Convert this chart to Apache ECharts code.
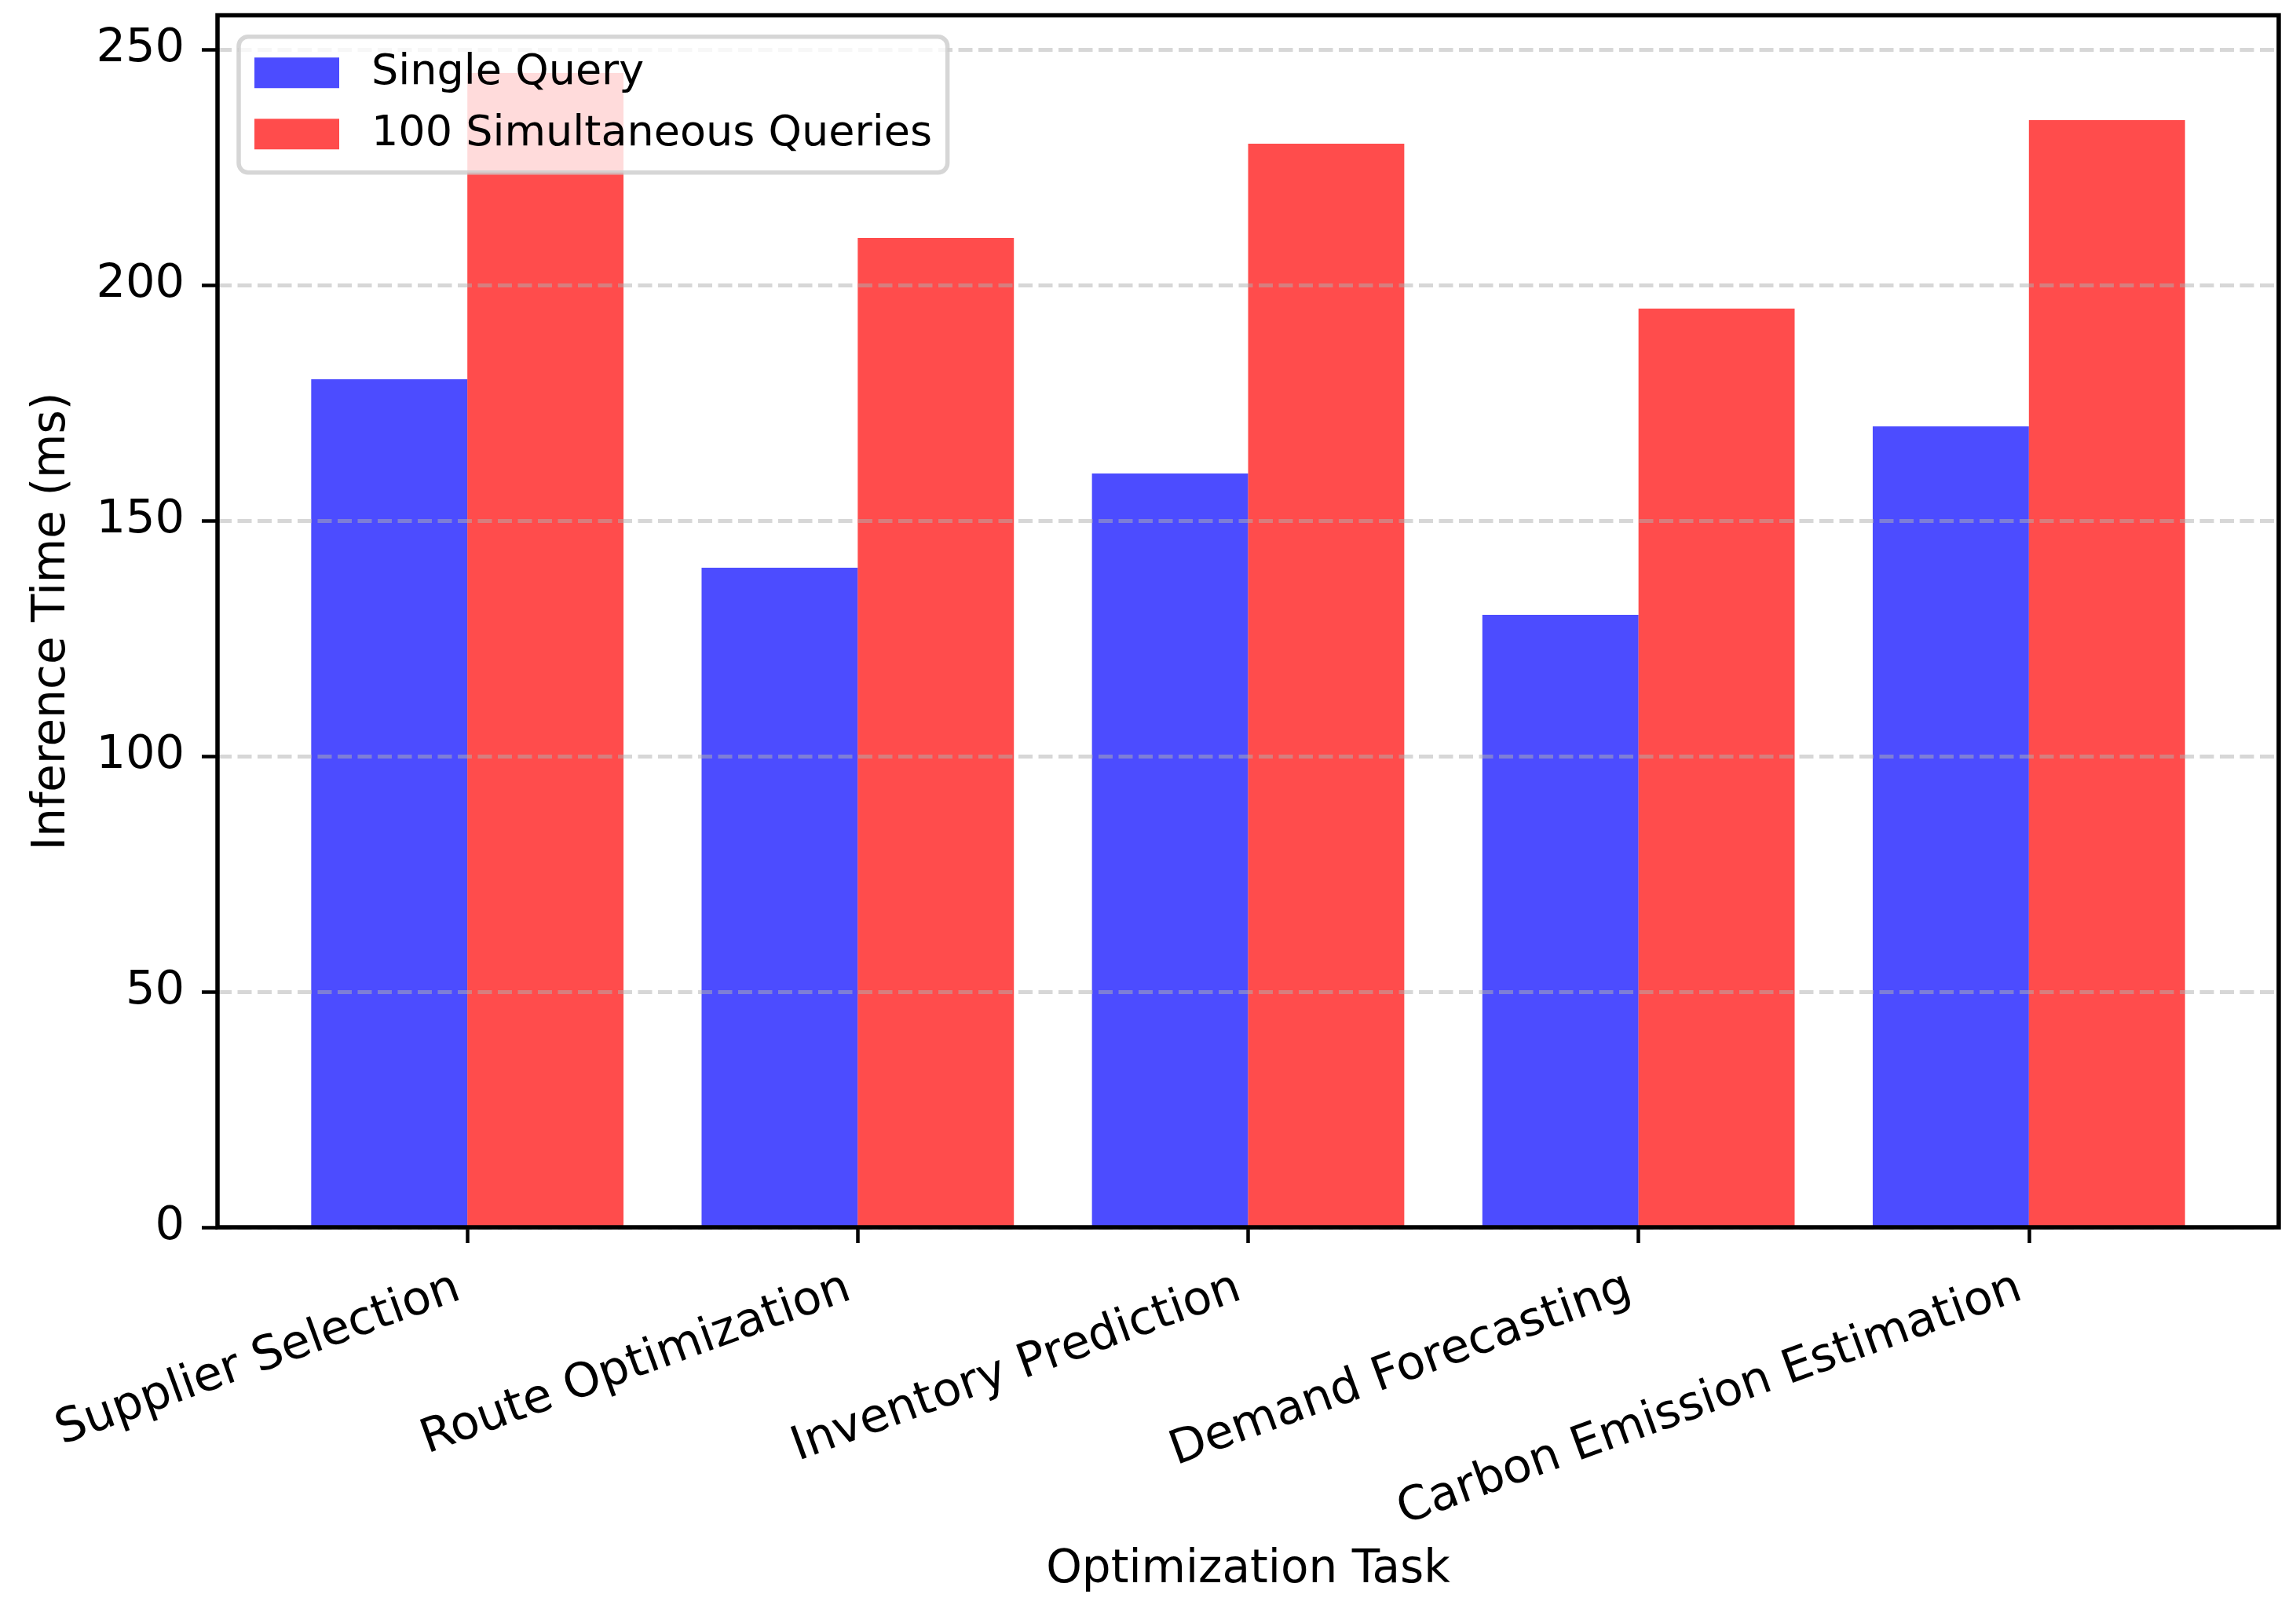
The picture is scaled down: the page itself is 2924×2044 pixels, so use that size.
<!DOCTYPE html>
<html>
<head>
<meta charset="utf-8">
<script src="https://cdn.jsdelivr.net/npm/echarts@6/dist/echarts.min.js"></script>
<style>
html,body{margin:0;padding:0;background:#fff;}
#chart{width:2924px;height:2044px;}
</style>
</head>
<body>
<div id="chart"></div>
<script>
// ---- data ----
const categories = ['Supplier Selection', 'Route Optimization', 'Inventory Prediction', 'Demand Forecasting', 'Carbon Emission Estimation'];
const singleQuery = [180, 140, 160, 130, 170];
const simultaneousQueries = [245, 210, 230, 195, 235];
const seriesNames = ['Single Query', '100 Simultaneous Queries'];
const yTicks = [0, 50, 100, 150, 200, 250];
const yMax = 257.25;
const xLabel = 'Optimization Task';
const yLabel = 'Inference Time (ms)';

const FONT = 'DejaVu Sans';
const chart = echarts.init(document.getElementById('chart'), null, {renderer: 'canvas'});

// frame grid (matplotlib axes box) and bar grid (category bands)
const frame = {left: 277, right: 22, top: 19.5, bottom: 481};
const plotW = 2924 - frame.left - frame.right;
const unit = plotW / 5.28;           // px per category
const barLeft = frame.left + 0.64 * unit - unit / 2;
const barRight = 2924 - (barLeft + 5 * unit);

const option = {
  backgroundColor: '#ffffff',
  animation: false,
  textStyle: {fontFamily: FONT},
  grid: [
    {left: frame.left, right: frame.right, top: frame.top, bottom: frame.bottom,
     show: true, borderColor: '#000', borderWidth: 5.5, backgroundColor: 'transparent', z: 4},
    {left: barLeft, right: barRight, top: frame.top, bottom: frame.bottom}
  ],
  legend: {
    orient: 'vertical',
    left: 304, top: 46.7,
    padding: [19, 19.5, 22, 20],
    itemWidth: 108, itemHeight: 39, itemGap: 24,
    icon: 'rect',
    backgroundColor: 'rgba(255,255,255,0.8)',
    borderColor: 'rgba(204,204,204,0.8)',
    borderWidth: 5.5,
    borderRadius: 12,
    textStyle: {fontFamily: FONT, fontSize: 54, color: '#000', padding: [0, 0, 0, 36]},
    data: seriesNames,
    z: 10
  },
  xAxis: [
    {gridIndex: 0, type: 'value', min: 0, max: 1,
     axisLine: {show: false}, axisTick: {show: false}, axisLabel: {show: false}, splitLine: {show: false}},
    {gridIndex: 1, type: 'category', data: categories,
     axisLine: {show: false},
     axisTick: {show: true, alignWithLabel: true, length: 20, lineStyle: {color: '#000', width: 4.5}},
     axisLabel: {interval: 0, rotate: 20, margin: 72, fontFamily: FONT, fontSize: 60, color: '#000', padding: [0, 12, 0, 0]},
     name: xLabel, nameLocation: 'middle', nameGap: 408,
     nameTextStyle: {fontFamily: FONT, fontSize: 58, color: '#000'}}
  ],
  yAxis: [
    {gridIndex: 0, type: 'value', min: 0, max: yMax, z: 3,
     axisLine: {show: false},
     axisTick: {show: true, length: 20, lineStyle: {color: '#000', width: 4.5}, customValues: yTicks},
     axisLabel: {fontFamily: FONT, fontSize: 59, color: '#000', margin: 42, customValues: yTicks},
     splitLine: {show: true, lineStyle: {color: 'rgba(176,176,176,0.5)', width: 4.8, type: [18, 7.5]}},
     name: yLabel, nameLocation: 'middle', nameGap: 181, nameRotate: 90,
     nameTextStyle: {fontFamily: FONT, fontSize: 58, color: '#000'}},
    {gridIndex: 1, type: 'value', min: 0, max: yMax, show: false}
  ],
  series: [
    {name: seriesNames[0], type: 'bar', xAxisIndex: 1, yAxisIndex: 1, data: singleQuery,
     barWidth: 0.4 * unit, barGap: '0%', itemStyle: {color: 'rgba(0,0,255,0.7)'}},
    {name: seriesNames[1], type: 'bar', xAxisIndex: 1, yAxisIndex: 1, data: simultaneousQueries,
     barWidth: 0.4 * unit, barGap: '0%', itemStyle: {color: 'rgba(255,0,0,0.7)'}}
  ]
};
chart.setOption(option);
</script>
</body>
</html>
